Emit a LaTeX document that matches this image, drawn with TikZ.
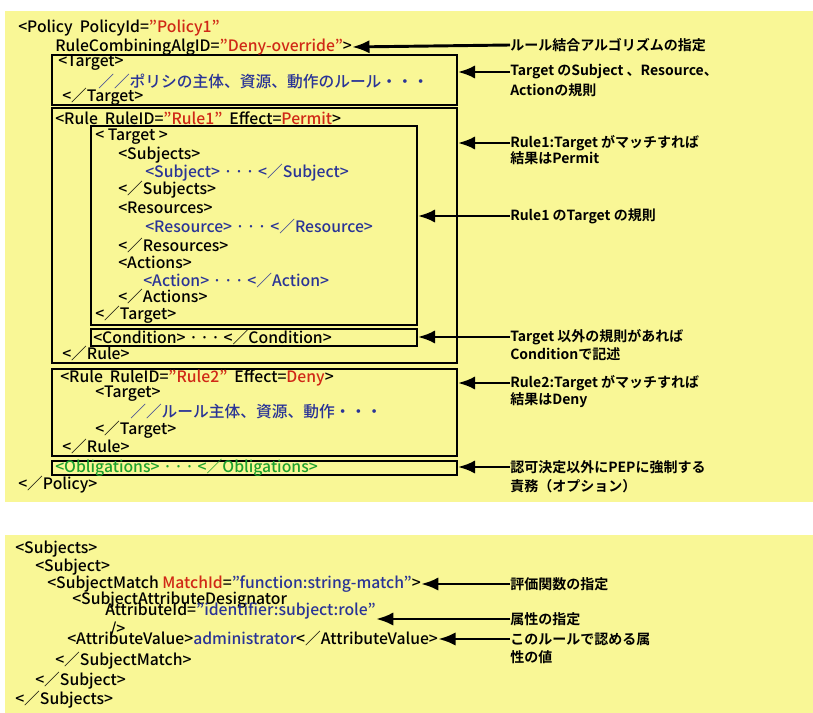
\documentclass[tikz,border=0pt]{standalone}
\usepackage{fontspec}
\usepackage{xcolor}
\setmainfont{Noto Sans CJK JP}[UprightFont={* Medium}, BoldFont={* Bold}]
\usetikzlibrary{arrows.meta, positioning, fit}
\definecolor{panel}{RGB}{249,247,150}
\definecolor{valred}{RGB}{208,40,22}
\definecolor{tagblue}{RGB}{42,52,150}
\definecolor{oblgreen}{RGB}{30,160,45}
\newcommand{\codefont}{\fontsize{11.8}{14}\selectfont}
\newcommand{\notefont}{\bfseries\fontsize{10.5}{12}\selectfont}
\newcommand{\rd}[1]{\textcolor{valred}{#1}}
\newcommand{\bl}[1]{\textcolor{tagblue}{#1}}
\newcommand{\tdots}{\ ·\kern1.5pt·\kern1.5pt·\ }
\tikzstyle{code} = [anchor=west, inner sep=0pt, font=\codefont]
\tikzstyle{note} = [anchor=west, inner sep=0pt, font=\notefont]
\tikzstyle{frame} = [draw=black, line width=1.2pt, inner sep=0pt]
\tikzstyle{arrow} = [line width=2.2pt, -{Latex[length=13pt,width=10pt]}]

\begin{document}
\begin{tikzpicture}[x=0.75pt, y=-0.75pt]
\useasboundingbox (0,0) rectangle (813,713);

% Panels
\fill[panel] (5,11) rectangle (813,502);
\fill[panel] (5,535) rectangle (813,713);

% Frames
\node (tgone) [frame, fit={(52,55) (457,105)}] {};
\node (ruleone) [frame, fit={(52,108) (457,363)}] {};
\node (tgtwo) [frame, fit={(91,126) (417,325)}] {};
\node (cond) [frame, fit={(91,329) (417,346)}] {};
\node (ruletwo) [frame, fit={(52,369) (457,456)}] {};
\node (oblig) [frame, fit={(52,461) (457,475)}] {};

% Policy
\node (pol) [code] at (18,28) {<Policy\ \ PolicyId=\rd{"Policy1"}};
\node (rca) [code] at (55,47) {RuleCombiningAlgID=\rd{"Deny-override"}>};
\node (ta) [code] at (58,63) {<Target>};
\node (tb) [code] at (98,81) {\bl{／／ポリシの主体、資源、動作のルール・・・}};
\node (tc) [code] at (62,97) {<／Target>};
\node (ra) [code] at (55,118) {<Rule\ \ RuleID=\rd{"Rule1"}\ \ Effect=\rd{Permit}>};
\node (sa) [code] at (95,137) {< Target >};
\node (sb) [code] at (118,155) {<Subjects>};
\node (sc) [code] at (145,173) {\bl{<Subject>\tdots<／Subject>}};
\node (sd) [code] at (118,190) {<／Subjects>};
\node (se) [code] at (118,208) {<Resources>};
\node (sf) [code] at (145,227) {\bl{<Resource>\tdots<／Resource>}};
\node (sg) [code] at (118,246) {<／Resources>};
\node (sh) [code] at (118,262) {<Actions>};
\node (si) [code] at (143,281) {\bl{<Action>\tdots<／Action>}};
\node (sj) [code] at (118,297) {<／Actions>};
\node (sk) [code] at (95,315) {<／Target>};
\node (ca) [code] at (93,338) {<Condition>\tdots<／Condition>};
\node (rz) [code] at (62,354) {<／Rule>};
\node (qa) [code] at (60,378) {<Rule\ \ RuleID=\rd{"Rule2"}\ \ Effect=\rd{Deny}>};
\node (qb) [code] at (95,394) {<Target>};
\node (qc) [code] at (130,412) {\bl{／／ルール主体、資源、動作・・・}};
\node (qd) [code] at (95,430) {<／Target>};
\node (qz) [code] at (62,447) {<／Rule>};
\node (oa) [code] at (55,468) {\textcolor{oblgreen}{<Obligations>\tdots<／Obligations>}};
\node (polz) [code] at (18,485) {<／Policy>};

% Notes
\node (na) [note] at (510,45) {ルール結合アルゴリズムの指定};
\node (nb) [note] at (510,72) {Target のSubject 、Resource、};
\node (nbb) [note] at (510,90) {Actionの規則};
\node (nc) [note] at (510,143) {Rule1:Target がマッチすれば};
\node (ncc) [note] at (510,158) {結果はPermit};
\node (nd) [note] at (510,216) {Rule1 のTarget の規則};
\node (ne) [note] at (510,337) {Target 以外の規則があれば};
\node (nee) [note] at (510,354) {Conditionで記述};
\node (nf) [note] at (510,383) {Rule2:Target がマッチすれば};
\node (nff) [note] at (510,400) {結果はDeny};
\node (ng) [note] at (510,467) {認可決定以外にPEPに強制する};
\node (ngg) [note] at (510,486) {責務（オプション）};

% Arrows
\draw [arrow] (na.west) -- (rca.east);
\draw [arrow] (nb.west) -- (nb.west -| tgone.east);
\draw [arrow] (nc.west) -- (nc.west -| ruleone.east);
\draw [arrow] (nd.west) -- (nd.west -| tgtwo.east);
\draw [arrow] (ne.west) -- (ne.west -| cond.east);
\draw [arrow] (nf.west) -- (nf.west -| ruletwo.east);
\draw [arrow] (ng.west) -- (ng.west -| oblig.east);

% Subjects
\node (ua) [code] at (15,549) {<Subjects>};
\node (ub) [code] at (35,567) {<Subject>};
\node (uc) [code] at (47,584) {<SubjectMatch \rd{MatchId}=\bl{"function:string-match"}>};
\node (ud) [code] at (72,600) {<SubjectAttributeDesignator};
\node (ue) [code] at (105,611) {AttributeId=\bl{"identifier:subject:role"}};
\node (uf) [code] at (110,630) {/>};
\node (ug) [code] at (67,639) {<AttributeValue>\bl{administrator}<／AttributeValue>};
\node (uh) [code] at (55,661) {<／SubjectMatch>};
\node (ui) [code] at (35,681) {<／Subject>};
\node (uj) [code] at (15,700) {<／Subjects>};

\node (ma) [note] at (510,584) {評価関数の指定};
\node (mb) [note] at (510,619) {属性の指定};
\node (mc) [note] at (510,639) {このルールで認める属};
\node (mcc) [note] at (510,657) {性の値};

\draw [arrow] (ma.west) -- (uc.east);
\draw [arrow] (mb.west) -- (mb.west -| ue.east);
\draw [arrow] (mc.west) -- (ug.east);

\end{tikzpicture}
\end{document}
